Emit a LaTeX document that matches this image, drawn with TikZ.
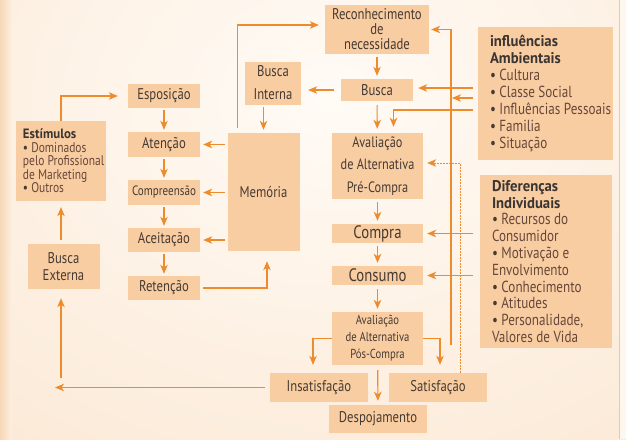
\documentclass[tikz,border=0pt]{standalone}
\usepackage{fontspec}
\setmainfont[FakeStretch=0.82]{PT Sans}
\newfontfamily\ttlfont[FakeStretch=0.95]{PT Sans}
\usetikzlibrary{arrows.meta}
\definecolor{boxfill}{HTML}{F9CDA2}
\definecolor{arr}{HTML}{EE8B2C}
\definecolor{txt}{HTML}{463A32}
\definecolor{ttl}{HTML}{3A3533}
\definecolor{itm}{HTML}{66473A}
\definecolor{bgout}{HTML}{FBE6D0}
\definecolor{bgin}{HTML}{FFFBF6}
\definecolor{bgedge}{HTML}{F7D8B6}
\definecolor{edge}{HTML}{EFC89E}
\newcommand{\fs}[2]{\fontsize{#1}{#2}\selectfont}
\newcommand{\ttl}[1]{{\ttlfont\bfseries\color{ttl}#1}}
\begin{document}
\begin{tikzpicture}[x=1pt,y=-1pt,
  box/.style={fill=boxfill, draw=none, inner sep=0pt, text=txt, align=center, font=\fs{15.5}{17}},
  txtblk/.style={inner sep=0pt, text=txt, align=left, anchor=west},
  conn/.style={draw=arr, line width=1.1pt, -{Stealth[length=9pt,width=7.5pt,inset=2.5pt]}},
  dotconn/.style={draw=arr, line width=0.8pt, dash pattern=on 1.5pt off 1.5pt, -{Stealth[length=9pt,width=7.5pt,inset=2.5pt]}},
]
\useasboundingbox (0,0) rectangle (626,439);
\begin{scope}
\clip (0,0) rectangle (626,439);
\shade[inner color=bgin, outer color=bgout] (-330,-420) rectangle (990,620);
\shade[left color=bgedge, right color=bgout!50!bgin] (0,0) rectangle (12,439);
\fill[bgin!80!bgout] (620,0) rectangle (626,439);
\end{scope}
\draw[edge, line width=0.8pt] (619.5,0) -- (619.5,439);

% nodes
\node[box, minimum width=104pt, minimum height=49pt, font=\fs{15.5}{15}] (rec) at (377,29.5) {Reconhecimento\\de\\necessidade};
\node[box, minimum width=56pt, minimum height=43pt, font=\fs{15.5}{23}] (bint) at (273,83) {Busca\\Interna};
\node[box, minimum width=72pt, minimum height=22pt] (busca) at (377,90) {Busca};
\node[box, minimum width=72pt, minimum height=24pt] (espo) at (164,96) {Esposição};
\node[box, minimum width=72pt, minimum height=25pt] (aten) at (164,144.5) {Atenção};
\node[box, minimum width=72pt, minimum height=118pt] (mem) at (263.5,192) {Memória};
\node[box, minimum width=72pt, minimum height=25pt, font=\fs{13.5}{14}] (compr) at (164,192.5) {Compreensão};
\node[box, minimum width=72pt, minimum height=24pt] (acei) at (164,240) {Aceitação};
\node[box, minimum width=72pt, minimum height=24pt] (ret) at (164,288) {Retenção};
\node[box, minimum width=72pt, minimum height=45pt, font=\fs{15.5}{17}] (bext) at (63.5,266.5) {Busca\\Externa};
\node[box, minimum width=91pt, minimum height=66pt, font=\fs{15}{22.5}] (avpre) at (377.5,166) {Avaliação\\de Alternativa\\Pré-Compra};
\node[box, minimum width=91pt, minimum height=19pt, font=\fs{18}{18}] (compra) at (377.5,233.5) {Compra};
\node[box, minimum width=91pt, minimum height=19pt, font=\fs{18}{18}] (consumo) at (377.5,275.5) {Consumo};
\node[box, minimum width=91pt, minimum height=53pt, font=\fs{13}{17}] (avpos) at (377.5,338.5) {Avaliação\\de Alternativa\\Pós-Compra};
\node[box, minimum width=98pt, minimum height=29pt] (insat) at (319,387.5) {Insatisfação};
\node[box, minimum width=98pt, minimum height=29pt] (sat) at (438,387.5) {Satisfação};
\node[box, minimum width=98pt, minimum height=28pt] (desp) at (378,419) {Despojamento};

\node[box, minimum width=90pt, minimum height=80pt] (estim) at (61,161) {};
\node[txtblk, font=\fs{14}{13.5}] (estimt) at ([xshift=7pt]estim.west) {\ttl{\fs{13.5}{13.5}Estímulos}\\ • {\color{itm}Dominados}\\ {\color{itm}pelo Profissional}\\ {\color{itm}de Marketing}\\ • {\color{itm}Outros}};

\node[box, minimum width=135pt, minimum height=133pt] (amb) at (545.5,93.5) {};
\node[txtblk, font=\fs{16}{17}] (ambt) at ([xshift=12pt]amb.west) {\ttl{\fs{15.5}{17}influências}\\ \ttl{\fs{15.5}{17}Ambientais}\\ • {\color{itm}Cultura}\\ • {\color{itm}Classe Social}\\ • {\color{itm}Influências Pessoais}\\ • {\color{itm}Familia}\\ • {\color{itm}Situação}};

\node[box, minimum width=132pt, minimum height=173pt] (dif) at (546,261.5) {};
\node[txtblk, font=\fs{16}{16.8}] (dift) at ([xshift=12pt]dif.west) {\ttl{\fs{15.5}{16.8}Diferenças}\\ \ttl{\fs{15.5}{16.8}Individuais}\\ • {\color{itm}Recursos do}\\ {\color{itm}Consumidor}\\ • {\color{itm}Motivação e}\\ {\color{itm}Envolvimento}\\ • {\color{itm}Conhecimento}\\ • {\color{itm}Atitudes}\\ • {\color{itm}Personalidade,}\\ {\color{itm}Valores de Vida}};

% free-end coordinates
\coordinate (ya) at (0,88);
\coordinate (yb) at (0,98);
\coordinate (yc) at (0,110);
\coordinate (vl) at (451,345);
\coordinate (bl) at (55,386);
\coordinate (bv) at (61,378);

% connectors, left part
\draw[conn, shorten >=10pt] (estim.north) |- (espo.west);
\draw[conn, shorten <=2pt, shorten >=2pt] (espo) -- (aten);
\draw[conn, shorten <=2pt, shorten >=2pt] (aten) -- (compr);
\draw[conn, shorten <=2pt, shorten >=2pt] (compr) -- (acei);
\draw[conn, shorten <=2pt, shorten >=2pt] (acei) -- (ret);
\draw[conn, shorten <=2pt, shorten >=3pt] (mem.west |- aten) -- (aten);
\draw[conn, shorten <=2pt, shorten >=3pt] (mem.west |- compr) -- (compr);
\draw[conn, shorten <=2pt, shorten >=3pt] (mem.west |- acei) -- (acei);
\draw[conn, shorten <=2pt, shorten >=3pt] (bint.south -| mem) -- (mem);
\draw[conn, shorten <=5pt, shorten >=6pt] ([xshift=10.5pt]mem.north west) |- ([yshift=4.5pt]rec.west);
\draw[conn, shorten <=3pt, shorten >=10pt] (ret.east) -| ([xshift=3.5pt]mem.south);
\draw[conn, shorten <=4pt, shorten >=6pt] (bext.north -| estim) -- (estim.south);
\draw[conn, shorten <=5pt] (insat.west) -- (bl |- insat.west);
\draw[conn, shorten >=9pt] (bv) -- (bv |- bext.south);

% connectors, centre column
\draw[conn, shorten <=7pt, shorten >=7pt] (busca.west) -- (bint.east |- busca.west);
\draw[conn, shorten <=3pt, shorten >=3pt] (rec) -- (busca);
\draw[conn, shorten <=4pt, shorten >=4pt] (busca) -- (avpre);
\draw[conn, shorten <=3pt, shorten >=3pt] (avpre) -- (compra);
\draw[conn, shorten <=3pt, shorten >=3pt] (compra) -- (consumo);
\draw[conn, shorten <=4pt, shorten >=3pt] (consumo) -- (avpos);
\draw[conn, shorten <=5pt, shorten >=4pt] (avpos) -- (desp);
\draw[conn, shorten >=8pt] (avpos.west) -| ([xshift=-6pt]insat.north);
\draw[conn, shorten >=8pt] (avpos.east) -| ([xshift=2pt]sat.north);

% connectors from the influence boxes
\draw[conn, shorten <=5pt, shorten >=5pt] (amb.west |- ya) -- (busca.east |- ya);
\draw[conn, shorten <=5pt, shorten >=1pt] (amb.west |- yb) -- (vl |- yb);
\draw[conn, shorten <=5pt, shorten >=6pt] (amb.west |- yc) -| ([xshift=16pt]avpre.north);
\draw[conn, shorten <=7pt, shorten >=4pt] (dif.west |- compra) -- (compra);
\draw[conn, shorten <=7pt, shorten >=4pt] (dif.west |- consumo) -- (consumo);
\draw[conn, shorten >=2pt] (vl) |- (rec.east);
\draw[dotconn, shorten >=4pt] ([xshift=22pt]sat.north) |- ([yshift=3pt]avpre.east);
\end{tikzpicture}
\end{document}
